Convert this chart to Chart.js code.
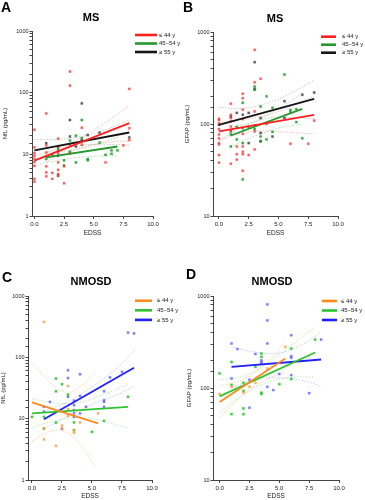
<!DOCTYPE html>
<html>
<head>
<meta charset="utf-8">
<script src="https://cdn.jsdelivr.net/npm/chart.js@4.4.1/dist/chart.umd.min.js"></script>
<style>
  body { margin: 0; background: #fff; }
  .wrap { position: relative; width: 365px; height: 500px; }
  .panel { position: absolute; }
</style>
</head>
<body>
<div class="wrap">
  <div class="panel" style="left:0;top:0;width:182px;height:250px"><canvas id="chA"></canvas></div>
  <div class="panel" style="left:182px;top:0;width:183px;height:250px"><canvas id="chB"></canvas></div>
  <div class="panel" style="left:0;top:250px;width:182px;height:250px"><canvas id="chC"></canvas></div>
  <div class="panel" style="left:182px;top:250px;width:183px;height:250px"><canvas id="chD"></canvas></div>
</div>
<script>
// age groups + axis ticks
const ageGroups = ["≤ 44 y", "45–54 y", "≥ 55 y"];
const xTicks = [0, 2.5, 5, 7.5, 10];

// ---- A: MS, NfL ---- [EDSS, value]
const A_low = [[0,25],[0,13],[0,10.5],[0,9.5],[0,8.5],[0,7.5],[0,6.5],[0,4],[0,3.6],[1,46],[1,14],[1,10.7],[1,6.4],[1,5.1],[1,4.4],[1.5,9.5],[1.5,5],[1.5,4],[2,18],[2,13.4],[2,10.4],[2,7.4],[2,5.6],[2,4.8],[2,4.5],[2.5,6.4],[2.5,3.4],[3,220],[3,130],[3,14.3],[3,10.4],[4,27],[4,14.3],[6,7.4],[7.5,14],[8,115],[8,26.5],[8,17]];
const A_mid = [[1,9.3],[1,8.4],[1.5,9.8],[2,12.6],[2,4.5],[2.5,6.6],[2.5,8],[3,16.7],[3,11],[3.5,20],[3.5,7.4],[4,36],[4,18.3],[4.5,8.4],[4.5,8],[5.5,15.5],[6,9.8],[6.5,11.6],[6.5,10.2],[7,11.6]];
const A_old = [[1,15.2],[2,9.5],[2,11.5],[3,36],[3,19.5],[3.5,13.4],[4,67],[4,17],[4.5,20.5],[5.5,22.5],[8,18.8]];
const A_lowFit = [[0,7.9],[8,32]];
const A_midFit = [[1,8.9],[7,13.4]];
const A_oldFit = [[0,11.6],[8,22.6]];
const A_lowHi = [[0,9.5],[2,12.5],[4,19],[6,33],[8,62]];
const A_lowLo = [[0,6.3],[2,9.3],[4,13],[6,15.5],[8,16.5]];
const A_midHi = [[1,10.8],[3,11.5],[5,14],[7,19]];
const A_midLo = [[1,7.3],[3,8.6],[5,9.3],[7,9.4]];
const A_oldHi = [[0,17.5],[2,17.5],[4,19.5],[6,25],[8,36]];
const A_oldLo = [[0,7.8],[2,11.3],[4,14],[6,14.5],[8,14]];

// ---- B: MS, GFAP ----
const B_low = [[0,114],[0,110],[0,101],[0,88],[0,77],[0,70],[0,62],[0,60],[0,46],[0,38],[1,166],[1,126],[1,116],[1,107],[1,94],[1,85],[1,37],[1.5,57],[1.5,47],[1.5,41],[2,213],[2,191],[2,143],[2,113],[2,78],[2,57],[2,50],[2,47],[2,31],[2.5,46],[3,640],[3,284],[3,137],[3,83],[3,53],[3.5,310],[4,100],[6,61],[7.5,61],[8,109]];
const B_mid = [[1,83],[1,77],[1,57],[1.5,93],[1.5,68],[2,170],[2,90],[2,62],[2,25],[2.5,92],[3,255],[3,235],[3,88],[3.5,155],[3.5,73],[3.5,65],[4,200],[4,68],[4.5,150],[4.5,82],[5.5,345],[6,142],[6,135],[6.5,145],[6.5,105],[7,70]];
const B_old = [[0,98],[1,121],[1.5,132],[2,126],[2.5,132],[2.5,62],[3,470],[3,240],[3,96],[3.5,116],[3.5,80],[3.5,65],[4.5,73],[5.5,177],[5.5,116],[7,208],[8,220]];
const B_lowFit = [[0,83],[8,126]];
const B_midFit = [[1,75],[7,146]];
const B_oldFit = [[0,98],[8,187]];
const B_lowHi = [[0,103],[2,112],[4,125],[6,155],[8,200]];
const B_lowLo = [[0,66],[2,80],[4,84],[6,81],[8,78]];
const B_midHi = [[1,92],[3,107],[5,148],[7,215]];
const B_midLo = [[1,57],[3,74],[5,90],[7,100]];
const B_oldHi = [[0,152],[2,148],[4,168],[6,215],[8,300]];
const B_oldLo = [[0,66],[2,92],[4,115],[6,118],[8,114]];

// ---- C: NMOSD, NfL ----
const C_low = [[1,378],[1,6.9],[1,4.6],[2,3.6],[2.5,7.7],[2.5,6.9],[3,34],[3,14.3],[3,11.1],[3.5,5.9],[3.5,6.5],[4,8.7],[5.5,12.2]];
const C_mid = [[0,10.7],[1,10.7],[1,6.9],[2,45],[2,28],[2,8.6],[2.5,36.5],[3,24.7],[3.5,8.7],[3.5,6.5],[5,6.1],[6,9.2],[8,22.7]];
const C_old = [[1,15.6],[1,13],[1.5,18.8],[2.5,6.8],[3,61.6],[3,46],[3,22.7],[3.5,19.6],[3.5,16.6],[3.5,13.8],[3.5,12.2],[3.5,10.7],[4,53],[4,23.5],[4,12.2],[4.5,15.6],[6,28],[6,20],[6,18.8],[6,15.6],[6.5,47],[7.5,58],[8,253],[8.5,245]];
const C_lowFit = [[0,18.4],[5.5,8.4]];
const C_midFit = [[0,12.2],[8,15.6]];
const C_oldFit = [[1,9.8],[8.5,67.5]];
const C_lowHi = [[0,80],[1,50],[2,32],[3,27],[4,33],[5.4,60]];
const C_lowLo = [[0,4.3],[1,5.6],[2,6.5],[3,5.8],[4,3.9],[5.3,1.6]];
const C_midHi = [[0,21],[2,18],[4,18.5],[6,25],[8,36]];
const C_midLo = [[0,7.2],[2,9.3],[4,10.5],[6,9],[8,7]];
const C_oldHi = [[1,13],[3,19],[5,33],[7,65],[8.5,125]];
const C_oldLo = [[1,6.8],[3,11],[5,17],[7,24],[8.5,34]];

// ---- D: NMOSD, GFAP ----
const D_low = [[0,86],[1,103],[2,89],[2.5,103],[3,114],[4,163],[5.5,280]];
const D_mid = [[0,144],[1,192],[1,108],[1,52],[2,114],[2,93],[2,60],[2,52],[3,170],[3.5,237],[3.5,218],[3.5,89],[3.5,86],[5,110],[6,268],[6,125],[8,336]];
const D_old = [[1,305],[1,127],[1.5,265],[2.5,123],[2.5,61],[3,234],[3.5,200],[3.5,192],[3.5,184],[4,810],[4,543],[4,305],[4,103],[4.5,95],[5,142],[6,375],[6,222],[6,213],[6,138],[7.5,88],[8.5,336]];
const D_lowFit = [[0,70.6],[5.5,209]];
const D_midFit = [[0,81],[8,243]];
const D_oldFit = [[1,170],[8.5,204]];
const D_lowHi = [[0,105],[2,125],[4,190],[5.5,320]];
const D_lowLo = [[0,48],[2,85],[4,125],[5.5,150]];
const D_midHi = [[0,122],[2,135],[4,185],[6,290],[8,460]];
const D_midLo = [[0,54],[2,85],[4,115],[6,130],[8,132]];
const D_oldHi = [[1,280],[3,245],[5,240],[7,300],[8.5,410]];
const D_oldLo = [[1,100],[3,125],[5,130],[7,120],[8.5,105]];

const RED    = { line: "#ff1f1f", pt: "rgba(255,50,50,0.75)",  ci: "rgba(255,0,0,0.28)" };
const GREEN  = { line: "#22992a", pt: "rgba(20,150,30,0.8)",   ci: "rgba(0,150,0,0.3)" };
const BLACK  = { line: "#151515", pt: "rgba(40,40,40,0.7)",    ci: "rgba(0,0,0,0.22)" };
const ORANGE = { line: "#ff8a1c", pt: "rgba(255,150,60,0.75)", ci: "rgba(255,140,0,0.38)" };
const LGREEN = { line: "#2ec42e", pt: "rgba(30,190,30,0.8)",   ci: "rgba(30,190,30,0.3)" };
const BLUE   = { line: "#1f1fff", pt: "rgba(90,90,255,0.75)",  ci: "rgba(40,40,255,0.25)" };

Chart.defaults.font.family = '"Liberation Sans", Arial, sans-serif';

function xy(arr) {
  return arr.map(p => ({ x: p[0], y: p[1] }));
}

function groupSets(g) {
  const ci = d => ({ data: xy(d), showLine: true, borderColor: g.col.ci, borderWidth: 1,
    borderDash: [1.5, 1.5], pointRadius: 0, tension: 0.4, order: 2 });
  return [
    ci(g.hi), ci(g.lo),
    { data: xy(g.pts), pointStyle: "rect", pointRadius: 1.5, backgroundColor: g.col.pt,
      borderColor: g.col.pt, borderWidth: 0.4, order: 1 },
    { data: xy(g.fit), showLine: true, borderColor: g.col.line, borderWidth: 1.8,
      pointRadius: 0, order: 0 }
  ];
}

// letter, title, legend drawn on top
const panelText = {
  id: "panelText",
  afterDraw(chart, args, o) {
    const c = chart.ctx;
    c.save();
    c.textBaseline = "middle";
    c.fillStyle = "#000";
    c.textAlign = "left";
    c.font = 'bold 14px "Liberation Sans", Arial, sans-serif';
    c.fillText(o.letter, o.letterX, o.letterY);
    c.textAlign = "center";
    c.font = 'bold 11px "Liberation Sans", Arial, sans-serif';
    c.fillText(o.title, o.titleX, o.titleY);
    c.textAlign = "left";
    c.font = '6px "Liberation Sans", Arial, sans-serif';
    for (let i = 0; i < ageGroups.length; i++) {
      const y = o.legY + i * o.legGap;
      c.strokeStyle = o.colors[i];
      c.lineWidth = 2.6;
      c.beginPath();
      c.moveTo(o.legX, y);
      c.lineTo(o.legX + o.legW, y);
      c.stroke();
      c.fillStyle = "#222";
      c.fillText(ageGroups[i], o.textX, y);
    }
    c.restore();
  }
};

function isDecade(v) {
  const e = Math.log10(v);
  return Math.abs(e - Math.round(e)) < 1e-9;
}

function makeChart(p) {
  let datasets = [];
  p.groups.forEach(g => { datasets = datasets.concat(groupSets(g)); });
  return new Chart(document.getElementById(p.id), {
    type: "scatter",
    data: { datasets },
    options: {
      responsive: true,
      maintainAspectRatio: false,
      animation: false,
      layout: { padding: { top: p.top, right: p.right, bottom: p.bottom, left: 0 } },
      plugins: {
        legend: { display: false },
        tooltip: { enabled: false },
        panelText: p.text
      },
      scales: {
        x: {
          type: "linear", min: p.xmin, max: 10,
          afterBuildTicks: s => { s.ticks = xTicks.map(v => ({ value: v })); },
          afterFit: s => { s.height = p.xh; },
          ticks: { callback: v => v.toFixed(1), font: { size: 6 }, color: "#222", padding: 2, maxRotation: 0 },
          grid: { drawOnChartArea: false, tickLength: 3, tickColor: "#444" },
          border: { color: "#444" },
          title: { display: true, text: "EDSS", font: { size: 6.5 }, color: "#222", padding: 0 }
        },
        y: {
          type: "logarithmic", min: p.ymin, max: 1000,
          afterFit: s => { s.width = p.yw; },
          ticks: { autoSkip: false, callback: v => isDecade(v) ? String(Math.round(v)) : "",
                   font: { size: 5.5 }, color: "#222", padding: 1 },
          grid: { drawOnChartArea: false, tickLength: 2.5, tickColor: "#444" },
          border: { color: "#444" },
          title: { display: true, text: p.yLabel, font: { size: 6 }, color: "#222",
                   padding: { top: p.ytPad, bottom: 0 } }
        }
      }
    },
    plugins: [panelText]
  });
}

makeChart({
  id: "chA", yLabel: "NfL (pg/mL)", ymin: 1, xmin: -0.2,
  top: 31, right: 29, bottom: 13, xh: 21, yw: 32, ytPad: 2,
  text: { letter: "A", letterX: 1, letterY: 8, title: "MS", titleX: 91, titleY: 18,
          legX: 135, legW: 22, legY: 35, legGap: 8.5, textX: 159,
          colors: [RED.line, GREEN.line, BLACK.line] },
  groups: [
    { pts: A_low, fit: A_lowFit, hi: A_lowHi, lo: A_lowLo, col: RED },
    { pts: A_mid, fit: A_midFit, hi: A_midHi, lo: A_midLo, col: GREEN },
    { pts: A_old, fit: A_oldFit, hi: A_oldHi, lo: A_oldLo, col: BLACK }
  ]
});

makeChart({
  id: "chB", yLabel: "GFAP (pg/mL)", ymin: 10, xmin: -0.5,
  top: 32, right: 27, bottom: 13, xh: 21, yw: 31, ytPad: 2,
  text: { letter: "B", letterX: 1, letterY: 8, title: "MS", titleX: 93, titleY: 19,
          legX: 139, legW: 15, legY: 36.7, legGap: 8, textX: 160,
          colors: [RED.line, GREEN.line, BLACK.line] },
  groups: [
    { pts: B_low, fit: B_lowFit, hi: B_lowHi, lo: B_lowLo, col: RED },
    { pts: B_mid, fit: B_midFit, hi: B_midHi, lo: B_midLo, col: GREEN },
    { pts: B_old, fit: B_oldFit, hi: B_oldHi, lo: B_oldLo, col: BLACK }
  ]
});

makeChart({
  id: "chC", yLabel: "NfL (pg/mL)", ymin: 1, xmin: -0.33,
  top: 46, right: 30, bottom: 0, xh: 20, yw: 28, ytPad: 0,
  text: { letter: "C", letterX: 2, letterY: 28, title: "NMOSD", titleX: 91, titleY: 32,
          legX: 135, legW: 17, legY: 50.7, legGap: 9.6, textX: 157,
          colors: [ORANGE.line, LGREEN.line, BLUE.line] },
  groups: [
    { pts: C_low, fit: C_lowFit, hi: C_lowHi, lo: C_lowLo, col: ORANGE },
    { pts: C_mid, fit: C_midFit, hi: C_midHi, lo: C_midLo, col: LGREEN },
    { pts: C_old, fit: C_oldFit, hi: C_oldHi, lo: C_oldLo, col: BLUE }
  ]
});

makeChart({
  id: "chD", yLabel: "GFAP (pg/mL)", ymin: 10, xmin: -0.55,
  top: 46, right: 26, bottom: 0, xh: 20, yw: 31, ytPad: 4,
  text: { letter: "D", letterX: 4, letterY: 25, title: "NMOSD", titleX: 90, titleY: 32,
          legX: 140, legW: 15, legY: 51, legGap: 9.5, textX: 159,
          colors: [ORANGE.line, LGREEN.line, BLUE.line] },
  groups: [
    { pts: D_low, fit: D_lowFit, hi: D_lowHi, lo: D_lowLo, col: ORANGE },
    { pts: D_mid, fit: D_midFit, hi: D_midHi, lo: D_midLo, col: LGREEN },
    { pts: D_old, fit: D_oldFit, hi: D_oldHi, lo: D_oldLo, col: BLUE }
  ]
});
</script>
</body>
</html>
